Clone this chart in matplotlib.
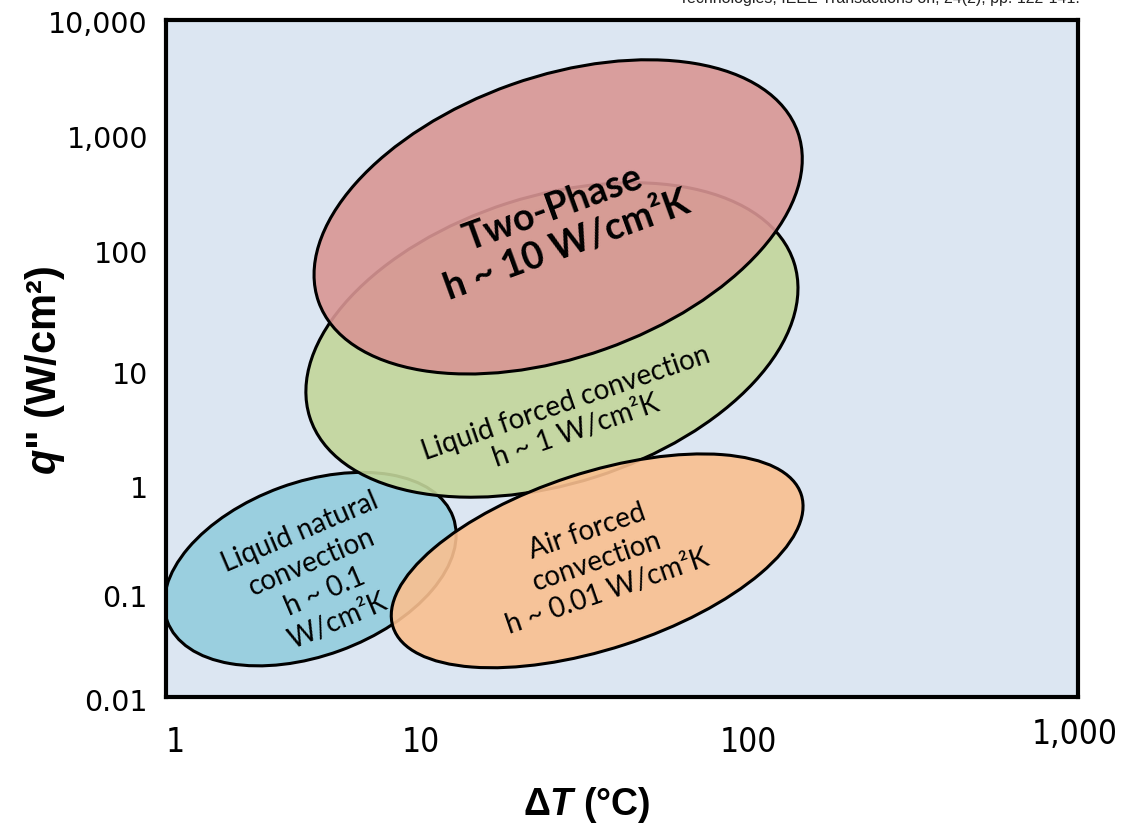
import matplotlib.pyplot as plt
from matplotlib.patches import Ellipse
from matplotlib import transforms

# heat transfer regimes: centre (dT, q'') of each region
regimes = ["Liquid natural\nconvection\nh ~ 0.1\nW/cm²K",
           "Liquid forced convection\nh ~ 1 W/cm²K",
           "Two-Phase\nh ~ 10 W/cm²K",
           "Air forced\nconvection\nh ~ 0.01 W/cm²K"]
dT_center = [2.98, 18.6, 19.5, 26.2]
q_center = [0.136, 14.6, 180.0, 0.161]

x_ticks = [1, 10, 100, 1000]
x_tick_labels = ["1", "10", "100", "1,000"]
y_ticks = [0.01, 0.1, 1, 10, 100, 1000, 10000]
y_tick_labels = ["0.01", "0.1", "1", "10", "100", "1,000", "10,000"]

# region outlines (points) and look
ell_w = [219, 366, 366, 309]
ell_h = [125, 207, 202, 127]
ell_ang = [20, 17.7, 19.5, 18]
colors = ["#93CDDD", "#C3D69B", "#D99694", "#FAC090"]
txt_off = [(6, -5), (14, -55), (1.4, -6.5), (0, 0)]
txt_ang = [23, 19, 20, 19]
txt_size = [20, 20, 27, 20]
txt_weight = ["normal", "normal", "bold", "normal"]
txt_spacing = [1.3, 1.2, 1.15, 1.3]

plt.rcParams['mathtext.fontset'] = 'custom'
plt.rcParams['mathtext.bfit'] = 'Liberation Sans:italic:bold'

fig = plt.figure(figsize=(11.21, 8.28), dpi=100)
ax = fig.add_axes([0.1481, 0.157, 0.8135, 0.8176])
ax.set_facecolor("#DCE6F2")
ax.set_xscale("log")
ax.set_yscale("log")
ax.set_xlim(1, 1000)
ax.set_ylim(0.01, 10000)

for i in range(len(regimes)):
    tr = (transforms.Affine2D().scale(1 / 72.) + fig.dpi_scale_trans
          + transforms.ScaledTranslation(dT_center[i], q_center[i], ax.transData))
    e = Ellipse((0, 0), ell_w[i], ell_h[i], angle=ell_ang[i], transform=tr,
                facecolor=colors[i] + "E6", edgecolor="black", linewidth=2.2,
                zorder=2 + i)
    ax.add_patch(e)
    ax.annotate(regimes[i], (dT_center[i], q_center[i]), xytext=txt_off[i],
                textcoords="offset points", ha="center", va="center",
                rotation=txt_ang[i], rotation_mode="anchor", family="Lato",
                fontsize=txt_size[i], fontweight=txt_weight[i],
                linespacing=txt_spacing[i], zorder=10)

ax.set_xticks(x_ticks, x_tick_labels, family="DejaVu Sans", fontstretch="condensed",
              fontsize=24)
ax.set_yticks(y_ticks, y_tick_labels, family="DejaVu Sans", fontsize=20.5)
ax.minorticks_off()
ax.tick_params(axis="both", length=0)
ax.tick_params(axis="x", pad=20)
ax.tick_params(axis="y", pad=13)

# nudge the tick labels a little
x_shift = [(9, 0), (-49, 0), (-26, 0), (-3, 8)]
y_shift = [(0, 2), (0, 11), (0, 15), (0, 13), (0, 5), (0, 3), (0, 1)]
for lab, (dx, dy) in zip(ax.get_xticklabels(), x_shift):
    lab.set_transform(lab.get_transform()
                      + transforms.ScaledTranslation(dx / 100, dy / 100, fig.dpi_scale_trans))
for lab, (dx, dy) in zip(ax.get_yticklabels(), y_shift):
    lab.set_transform(lab.get_transform()
                      + transforms.ScaledTranslation(dx / 100, -dy / 100, fig.dpi_scale_trans))

for s in ax.spines.values():
    s.set_linewidth(3)
    s.set_zorder(20)

ax.set_xlabel(r"Δ$\mathbfit{T}$ (°C)", family="Liberation Sans",
              fontweight="bold", fontsize=27)
ax.xaxis.set_label_coords(0.4616, -0.128)
ax.set_ylabel(r'$\mathbfit{q}$" (W/cm²)', family="Liberation Sans", fontweight="bold",
              fontsize=30, va="center")
ax.yaxis.set_label_coords(-0.1327, 0.4845)

fig.text(1080 / 1121, 1 - 3 / 828, "Technologies, IEEE Transactions on, 24(2), pp. 122-141.",
         ha="right", va="baseline", fontsize=11.5, family="Liberation Sans", color="#222222")

fig.savefig("out.png", dpi=100)
